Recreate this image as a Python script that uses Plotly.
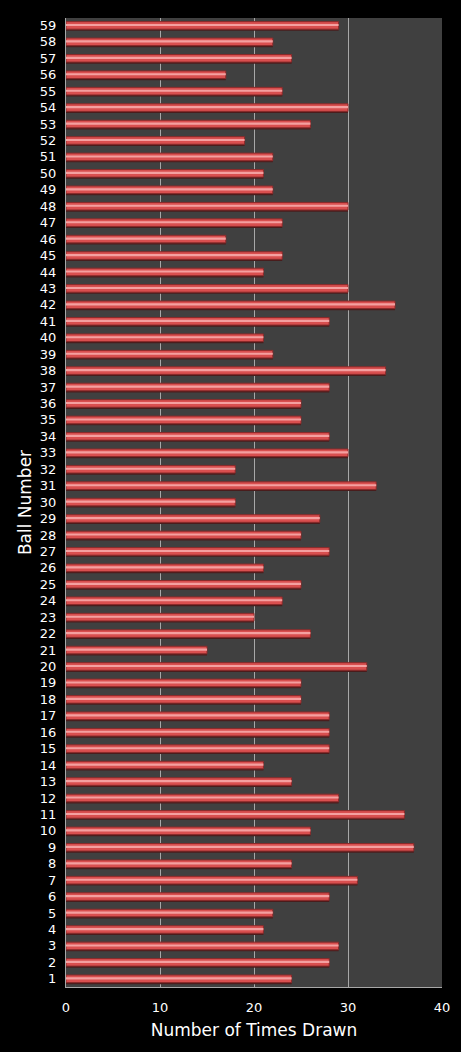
import plotly.graph_objects as go

# ball numbers 1..59 and how often each was drawn
balls = [str(n) for n in range(1, 60)]
times_drawn = [
    24, 28, 29, 21, 22, 28, 31, 24, 37, 26,
    36, 29, 24, 21, 28, 28, 28, 25, 25, 32,
    15, 26, 20, 23, 25, 21, 28, 25, 27, 18,
    33, 18, 30, 28, 25, 25, 28, 34, 22, 21,
    28, 35, 30, 21, 23, 17, 23, 30, 22, 21,
    22, 19, 26, 30, 23, 17, 24, 22, 29,
]
x_ticks = [0, 10, 20, 30, 40]

fig = go.Figure()
# dark shadow under each bar
fig.add_trace(go.Bar(
    y=balls, x=times_drawn, orientation="h",
    marker=dict(color="#4a1c1c", line=dict(width=0)),
    width=0.14, offset=-0.33, hoverinfo="skip", showlegend=False,
))
# main bar body
fig.add_trace(go.Bar(
    y=balls, x=times_drawn, orientation="h",
    marker=dict(color="#d94f4f", line=dict(color="#8a2a2a", width=1)),
    width=0.46, offset=-0.23, hoverinfo="x+y", showlegend=False,
))
# lighter stripe for the glossy look
fig.add_trace(go.Bar(
    y=balls, x=times_drawn, orientation="h",
    marker=dict(color="#f4a0a0", line=dict(width=0)),
    width=0.13, offset=-0.04, hoverinfo="skip", showlegend=False,
))

fig.update_layout(
    width=461, height=1052,
    paper_bgcolor="#000000", plot_bgcolor="#404040",
    margin=dict(l=66, r=19, t=18, b=65),
    barmode="overlay",
    font=dict(family="DejaVu Sans", color="#ffffff", size=13),
)
fig.update_xaxes(
    range=[0, 40], tickvals=x_ticks,
    showgrid=True, gridcolor="#a8a8a8", gridwidth=1,
    showline=True, linecolor="#a8a8a8", linewidth=1,
    zeroline=False, ticks="", ticklabelstandoff=8,
    tickfont=dict(size=13, color="#ffffff"),
    title=dict(text="Number of Times Drawn", font=dict(size=17, color="#ffffff"), standoff=10),
)
fig.update_yaxes(
    type="category", categoryorder="array", categoryarray=balls,
    range=[-0.5, 58.45],
    showgrid=False, showline=True, linecolor="#a8a8a8", linewidth=1,
    ticks="", ticklabelstandoff=6, tickfont=dict(size=13, color="#ffffff"),
    title=dict(text="Ball Number", font=dict(size=17, color="#ffffff"), standoff=3),
)

# drop the default page margin so the chart sits flush with the window
fig.write_html(
    "out.html",
    config={"displayModeBar": False},
    post_script="document.body.style.margin='0';document.body.style.background='#000';",
)
